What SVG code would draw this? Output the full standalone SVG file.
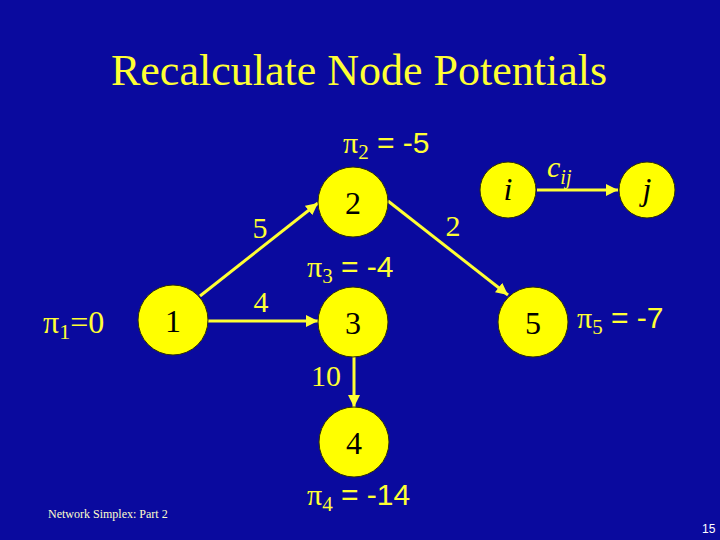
<svg xmlns="http://www.w3.org/2000/svg" width="720" height="540" viewBox="0 0 720 540">
<defs>
<style>
.t{font-family:"Liberation Serif","Times New Roman",serif;fill:#ffff33}
.s{font-family:"Liberation Sans",Arial,sans-serif;fill:#ffff33}
.p{font-family:"Liberation Serif","Times New Roman",serif}
.n{fill:#ffff00;stroke:#303000;stroke-width:1}
.nt{font-family:"Liberation Serif","Times New Roman",serif;font-size:32px;fill:#000;text-anchor:middle}
.e{stroke:#ffff33;stroke-width:3;fill:none;marker-end:url(#ah)}
</style>
<marker id="ah" viewBox="0 0 10 10" refX="10" refY="5" markerWidth="4" markerHeight="4" orient="auto" markerUnits="strokeWidth">
<path d="M0,0 L10,5 L0,10 z" fill="#ffff33"/>
</marker>
</defs>
<rect width="720" height="540" fill="#0a0a9e"/>
<text class="t" x="359" y="85" font-size="44" text-anchor="middle">Recalculate Node Potentials</text>
<g id="connectors">
<line class="e" x1="200" y1="296" x2="318" y2="203"/>
<line class="e" x1="208" y1="321" x2="318" y2="321"/>
<line class="e" x1="388" y1="201" x2="508" y2="295"/>
<line class="e" x1="354" y1="357" x2="354" y2="407"/>
<line class="e" x1="537" y1="190" x2="618" y2="190"/>
</g>
<g id="node1"><circle class="n" cx="173" cy="320" r="35"/><text class="nt" x="173" y="332">1</text></g>
<g id="node2"><circle class="n" cx="353" cy="202" r="35"/><text class="nt" x="353" y="214">2</text></g>
<g id="node3"><circle class="n" cx="353" cy="322" r="35"/><text class="nt" x="353" y="334">3</text></g>
<g id="node4"><circle class="n" cx="354" cy="442" r="35"/><text class="nt" x="354" y="454">4</text></g>
<g id="node5"><circle class="n" cx="533" cy="322" r="35"/><text class="nt" x="533" y="334">5</text></g>
<g id="nodei"><circle class="n" cx="508" cy="190" r="28"/><text class="nt" x="508" y="200" font-style="italic" font-size="30">i</text></g>
<g id="nodej"><circle class="n" cx="647" cy="190" r="28"/><text class="nt" x="647" y="200" font-style="italic" font-size="30">j</text></g>
<g id="labels">
<text class="t" x="260" y="238" font-size="30" text-anchor="middle">5</text>
<text class="t" x="261" y="312" font-size="30" text-anchor="middle">4</text>
<text class="t" x="453" y="236" font-size="30" text-anchor="middle">2</text>
<text class="t" x="311" y="386" font-size="30">10</text>
<text class="t" x="547" y="177" font-size="30" font-style="italic">c<tspan font-size="20" dy="7">ij</tspan></text>
<text class="t" x="43" y="333" font-size="32">π<tspan font-size="22" dy="6">1</tspan><tspan dy="-6">=0</tspan></text>
<text class="s" x="343" y="153" font-size="30"><tspan class="p">π</tspan><tspan font-size="21" class="p" dy="6">2</tspan><tspan dy="-6"> = -5</tspan></text>
<text class="s" x="307" y="277" font-size="30"><tspan class="p">π</tspan><tspan font-size="21" class="p" dy="6">3</tspan><tspan dy="-6"> = -4</tspan></text>
<text class="s" x="307" y="505" font-size="30"><tspan class="p">π</tspan><tspan font-size="21" class="p" dy="6">4</tspan><tspan dy="-6"> = -14</tspan></text>
<text class="s" x="577" y="328" font-size="30"><tspan class="p">π</tspan><tspan font-size="21" class="p" dy="6">5</tspan><tspan dy="-6"> = -7</tspan></text>
<text class="t" x="48" y="518" font-size="12" style="fill:#ffffcc">Network Simplex: Part 2</text>
<text class="s" x="702" y="533" font-size="12" style="fill:#ffffff">15</text>
</g>
</svg>
